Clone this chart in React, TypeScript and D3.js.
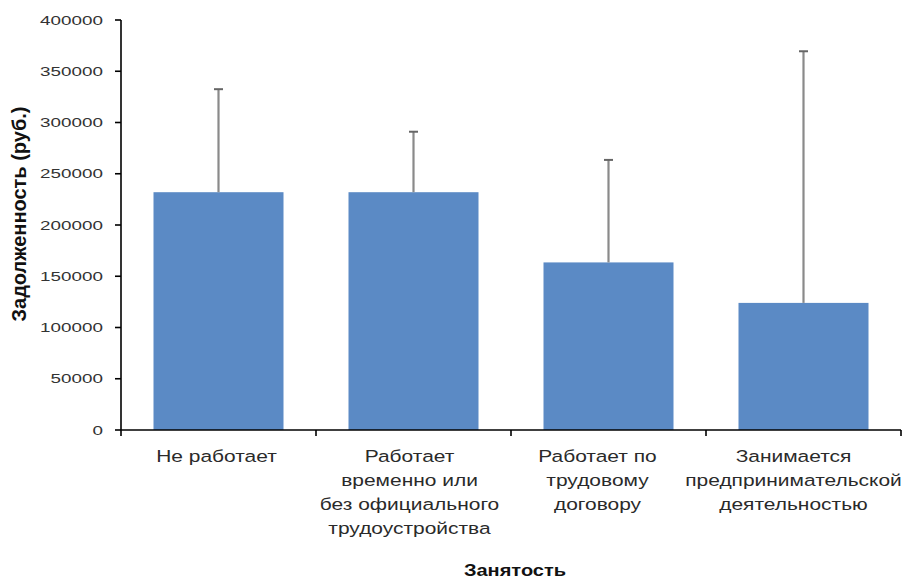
import React from "react";
import * as d3 from "d3";

const categories: string[][] = [
  ["Не работает"],
  ["Работает", "временно или", "без официального", "трудоустройства"],
  ["Работает по", "трудовому", "договору"],
  ["Занимается", "предпринимательской", "деятельностью"],
];
const means: number[] = [232000, 232000, 163500, 124000];
const errors: number[] = [100500, 59000, 100000, 245500];
const yTicks: number[] = [0, 50000, 100000, 150000, 200000, 250000, 300000, 350000, 400000];

const W = 909;
const H = 579;
const M = { left: 121, right: 8, top: 20, bottom: 149 };
// small horizontal nudges of the category labels, as in the original layout
const labelNudge = [-2, -4, -11, -10];

export default function App() {
  const x = d3
    .scaleBand<number>()
    .domain(d3.range(categories.length))
    .range([M.left, W - M.right])
    .paddingInner(1 / 3)
    .paddingOuter(1 / 6);
  const step = x.step();
  const y = d3.scaleLinear().domain([0, 400000]).range([H - M.bottom, M.top]);
  const y0 = y(0);
  const font = "'Liberation Sans', Arial, sans-serif";
  return (
    <svg width={W} height={H} style={{ position: "absolute", left: 0, top: 0, background: "#fff" }}>
      {categories.map((c, i) => {
        const bx = x(i)!;
        const cx = bx + x.bandwidth() / 2;
        const top = y(means[i] + errors[i]);
        return (
          <g key={i}>
            <rect x={bx} y={y(means[i])} width={x.bandwidth()} height={y0 - y(means[i])} fill="#5B8AC5" />
            <line x1={cx} x2={cx} y1={y(means[i])} y2={top} stroke="#8a8a8a" strokeWidth={2.2} />
            <line x1={cx - 4.5} x2={cx + 4.5} y1={top} y2={top} stroke="#666" strokeWidth={2} />
          </g>
        );
      })}
      {/* y axis */}
      <line x1={M.left} x2={M.left} y1={M.top} y2={y0} stroke="#000" strokeWidth={1.6} />
      {yTicks.map((t) => (
        <g key={t}>
          <line x1={M.left - 6} x2={M.left} y1={y(t)} y2={y(t)} stroke="#000" strokeWidth={1.6} />
          <text
            transform={`translate(${M.left - 18},${y(t)}) scale(1.45,1)`}
            dy="0.36em"
            textAnchor="end"
            fontSize={13}
            fontFamily={font}
            fill="#333"
          >
            {t}
          </text>
        </g>
      ))}
      {/* x axis */}
      <line x1={M.left} x2={W - M.right} y1={y0} y2={y0} stroke="#000" strokeWidth={1.6} />
      {d3.range(categories.length + 1).map((i) => (
        <line key={i} x1={M.left + i * step} x2={M.left + i * step} y1={y0} y2={y0 + 6} stroke="#000" strokeWidth={1.6} />
      ))}
      {categories.map((c, i) => (
        <g key={i} transform={`translate(${x(i)! + x.bandwidth() / 2 + labelNudge[i]},0)`}>
          {c.map((ln, j) => (
            <text
              key={j}
              transform={`translate(0,${462 + j * 24}) scale(1.27,1)`}
              textAnchor="middle"
              fontSize={16.5}
              fontFamily={font}
              fill="#2a2a2a"
            >
              {ln}
            </text>
          ))}
        </g>
      ))}
      <text
        transform={`translate(515,576) scale(1.25,1)`}
        textAnchor="middle"
        fontSize={16}
        fontWeight="bold"
        fontFamily={font}
        fill="#111"
      >
        Занятость
      </text>
      <text
        transform={`translate(26,214) rotate(-90)`}
        textAnchor="middle"
        fontSize={20}
        fontWeight="bold"
        fontFamily={font}
        fill="#111"
      >
        Задолженность  (руб.)
      </text>
    </svg>
  );
}
